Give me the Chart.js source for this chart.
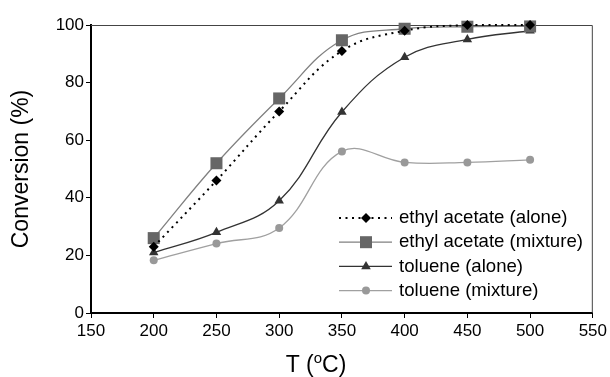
<!DOCTYPE html>
<html>
<head>
<meta charset="utf-8">
<script src="https://cdn.jsdelivr.net/npm/chart.js"></script>
<style>
  html, body { margin: 0; padding: 0; background: #fff; }
  #wrap { width: 610px; height: 377px; }
</style>
</head>
<body>
<div id="wrap"><canvas id="myChart" width="610" height="377"></canvas></div>
<script>
const temps = [200, 250, 300, 350, 400, 450, 500];
const eaAlone = [23, 46, 70, 91, 98, 100, 100];
const eaMixture = [26, 52, 74.5, 94.7, 98.7, 99.4, 99.5];
const tolAlone = [21, 28, 39, 69.8, 88.8, 95, 98];
const tolMixture = [18.3, 24.1, 29.5, 56.1, 52.3, 52.3, 53.2];
const seriesNames = ['ethyl acetate (alone)', 'ethyl acetate (mixture)', 'toluene (alone)', 'toluene (mixture)'];
const xTicks = [150, 200, 250, 300, 350, 400, 450, 500, 550];
const yTicks = [0, 20, 40, 60, 80, 100];

const FONT = '"Liberation Sans", Arial, sans-serif';

function pts(vals) {
    return temps.map((t, i) => ({ x: t, y: vals[i] }));
}

// gray frame on top and right of the plot area
const framePlugin = {
    id: 'frame',
    beforeDatasetsDraw(chart) {
        const a = chart.chartArea;
        const ctx = chart.ctx;
        ctx.save();
        ctx.strokeStyle = '#444';
        ctx.lineWidth = 1;
        ctx.beginPath();
        ctx.moveTo(a.left, a.top + 0.5);
        ctx.lineTo(a.right - 0.5, a.top + 0.5);
        ctx.lineTo(a.right - 0.5, a.bottom);
        ctx.stroke();
        ctx.restore();
    }
};

function marker(ctx, kind, x, y) {
    ctx.beginPath();
    if (kind === 'diamond') {
        ctx.fillStyle = '#000';
        ctx.moveTo(x, y - 5); ctx.lineTo(x + 5, y); ctx.lineTo(x, y + 5); ctx.lineTo(x - 5, y);
    } else if (kind === 'square') {
        ctx.fillStyle = '#666';
        ctx.rect(x - 6, y - 6, 12, 12);
    } else if (kind === 'triangle') {
        ctx.fillStyle = '#333';
        ctx.moveTo(x, y - 5.5); ctx.lineTo(x + 4.8, y + 2.8); ctx.lineTo(x - 4.8, y + 2.8);
    } else {
        ctx.fillStyle = '#999';
        ctx.arc(x, y, 4, 0, Math.PI * 2);
    }
    ctx.closePath();
    ctx.fill();
}

// legend inside the plot + x title with superscript
const legendPlugin = {
    id: 'insideLegend',
    afterDraw(chart) {
        const ctx = chart.ctx;
        const kinds = ['diamond', 'square', 'triangle', 'circle'];
        ctx.save();
        chart.data.datasets.forEach((ds, i) => {
            const y = 218 + i * 24.2;
            ctx.strokeStyle = ds.borderColor;
            ctx.lineWidth = ds.borderWidth;
            ctx.setLineDash(ds.borderDash || []);
            ctx.beginPath();
            ctx.moveTo(339, y);
            ctx.lineTo(392, y);
            ctx.stroke();
            ctx.setLineDash([]);
            marker(ctx, kinds[i], 366, y);
            ctx.fillStyle = '#000';
            ctx.font = '18.6px ' + FONT;
            ctx.textBaseline = 'middle';
            ctx.textAlign = 'left';
            ctx.fillText(seriesNames[i], 399, y);
        });

        // x axis title: T (oC)
        ctx.fillStyle = '#000';
        ctx.textBaseline = 'alphabetic';
        const partA = 'T (', partC = 'C)';
        ctx.font = '23px ' + FONT;
        const wA = ctx.measureText(partA).width;
        const wC = ctx.measureText(partC).width;
        ctx.font = '15px ' + FONT;
        const wO = ctx.measureText('o').width;
        let x = 316 - (wA + wO + wC) / 2;
        const base = 372;
        ctx.font = '23px ' + FONT;
        ctx.fillText(partA, x, base);
        x += wA;
        ctx.font = '15px ' + FONT;
        ctx.fillText('o', x, base - 9);
        x += wO;
        ctx.font = '23px ' + FONT;
        ctx.fillText(partC, x, base);
        ctx.restore();
    }
};

const common = { tension: 0.4, fill: false, clip: false, pointBorderWidth: 0 };

new Chart(document.getElementById('myChart').getContext('2d'), {
    type: 'line',
    data: {
        datasets: [
            Object.assign({}, common, {
                label: seriesNames[0], data: pts(eaAlone),
                borderColor: '#000', borderWidth: 2, borderDash: [2, 4.5],
                pointStyle: 'rectRot', pointRadius: 5, pointBackgroundColor: '#000', pointBorderColor: '#000'
            }),
            Object.assign({}, common, {
                label: seriesNames[1], data: pts(eaMixture),
                borderColor: '#808080', borderWidth: 1.3,
                pointStyle: 'rect', pointRadius: 8.5, pointBackgroundColor: '#666', pointBorderColor: '#666'
            }),
            Object.assign({}, common, {
                label: seriesNames[2], data: pts(tolAlone),
                borderColor: '#333', borderWidth: 1.3,
                pointStyle: 'triangle', pointRadius: 5.5, pointBackgroundColor: '#333', pointBorderColor: '#333'
            }),
            Object.assign({}, common, {
                label: seriesNames[3], data: pts(tolMixture),
                borderColor: '#a0a0a0', borderWidth: 1.3,
                pointStyle: 'circle', pointRadius: 4, pointBackgroundColor: '#999', pointBorderColor: '#999'
            })
        ]
    },
    options: {
        responsive: false,
        animation: false,
        events: [],
        layout: { padding: { top: 25, right: 14, left: 0, bottom: 0 } },
        plugins: { legend: { display: false }, tooltip: { enabled: false } },
        scales: {
            x: {
                type: 'linear', min: 150, max: 550,
                afterBuildTicks: (s) => { s.ticks = xTicks.map(v => ({ value: v })); },
                afterFit: (s) => { s.height = 64; },
                grid: { drawOnChartArea: false, tickLength: 5, color: '#000', lineWidth: 1 },
                border: { color: '#000', width: 2 },
                ticks: { color: '#000', font: { family: FONT, size: 17 }, padding: 3, maxRotation: 0 }
            },
            y: {
                min: 0, max: 100,
                afterBuildTicks: (s) => { s.ticks = yTicks.map(v => ({ value: v })); },
                afterFit: (s) => { s.width = 91; },
                grid: { drawOnChartArea: false, tickLength: 5, color: '#000', lineWidth: 1 },
                border: { color: '#000', width: 2 },
                ticks: { color: '#000', font: { family: FONT, size: 17 }, padding: 2 },
                title: { display: true, text: 'Conversion (%)', color: '#000', font: { family: FONT, size: 23 }, padding: { top: 8, bottom: 0 } }
            }
        }
    },
    plugins: [framePlugin, legendPlugin]
});
</script>
</body>
</html>
